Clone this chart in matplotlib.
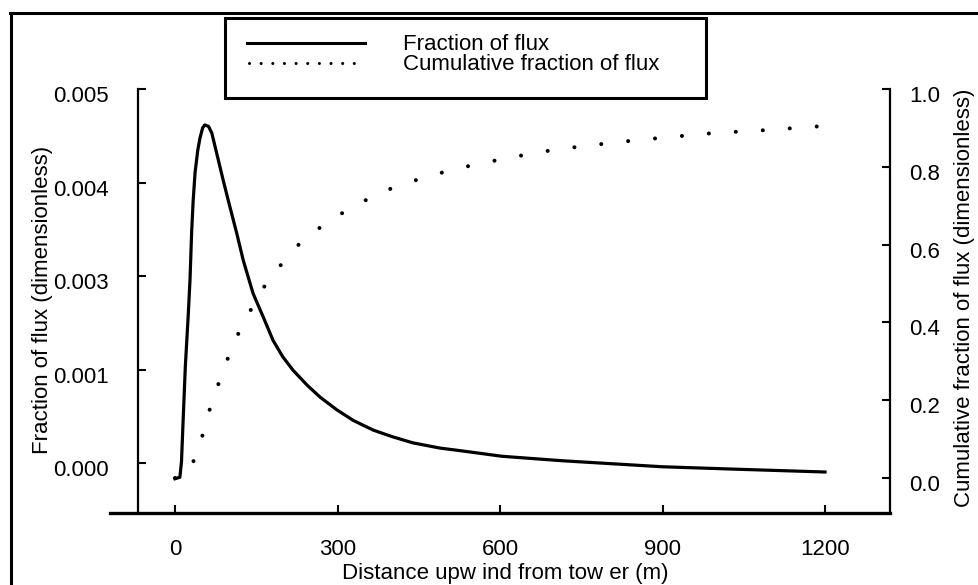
import matplotlib
matplotlib.use("Agg")
import matplotlib.pyplot as plt
from matplotlib.lines import Line2D
from matplotlib.patches import Rectangle
from matplotlib.transforms import ScaledTranslation

plt.rcParams['font.family'] = ['Liberation Sans', 'DejaVu Sans']
plt.rcParams['font.size'] = 16

## Data
# fraction of flux, left axis (values on the linear tick scale)
dist_frac = [0, 9, 12, 15, 19, 24.6, 27.7, 30.8, 33.5, 37, 42, 46, 51, 55,
             62, 68, 79, 89, 98, 114, 126, 144, 163, 181, 199, 218, 244, 268,
             299, 329, 366, 402, 439, 489, 532, 604, 716, 900, 1025, 1200]
frac = [-0.00021, -0.00019, 0.00002, 0.00057, 0.00128, 0.00200, 0.00245,
        0.00310, 0.00350, 0.00388, 0.00418, 0.00434, 0.00448, 0.00452,
        0.00450, 0.00441, 0.00408, 0.00378, 0.00352, 0.00307, 0.00271,
        0.00227, 0.00195, 0.00164, 0.00142, 0.00124, 0.00104, 0.00088,
        0.00071, 0.00057, 0.00044, 0.00035, 0.00027, 0.00020, 0.00016,
        0.00009, 0.00003, -0.00005, -0.00008, -0.00012]

# cumulative fraction of flux, right axis
dist_cum = [0, 22, 33, 42, 50, 55, 70, 87, 105, 124, 148, 172, 203, 236,
            277, 318, 360, 402, 452, 476, 526, 576, 624, 674, 724, 772,
            822, 871, 919, 969, 1019, 1067, 1117, 1167, 1200]
cum = [0.0, 0.010, 0.039, 0.072, 0.105, 0.139, 0.200, 0.270, 0.334, 0.393,
       0.452, 0.509, 0.560, 0.612, 0.653, 0.689, 0.720, 0.746, 0.769, 0.779,
       0.797, 0.812, 0.825, 0.838, 0.848, 0.856, 0.864, 0.871, 0.877, 0.884,
       0.889, 0.892, 0.897, 0.902, 0.905]

xticks = [0, 300, 600, 900, 1200]
yticks_left = [0, 0.00125, 0.0025, 0.00375, 0.005]
yticklabels_left = ['0.000', '0.001', '0.003', '0.004', '0.005']
yticks_right = [0.0, 0.2, 0.4, 0.6, 0.8, 1.0]
yticklabels_right = ['0.0', '0.2', '0.4', '0.6', '0.8', '1.0']

W, H = 979, 585

def fx(px):
    return px / W

def fy(py):
    return 1 - py / H

fig = plt.figure(figsize=(W / 100, H / 100), dpi=100)
ax = fig.add_axes([fx(110), fy(513), (890 - 110) / W, (513 - 89) / H])

ax.plot(dist_frac, frac, color='k', lw=2.3, solid_joinstyle='round')
ax.set_xlim(-120, 1320)
ax.set_ylim(-0.000668, 0.005)

ax2 = ax.twinx()
ax2.plot(dist_cum, cum, color='k', lw=2.9, ls=(0, (0.01, 6.7)),
         dash_capstyle='round')
ax2.set_ylim(-0.09, 1.0)

# spines
for s in ['top', 'right']:
    ax.spines[s].set_visible(False)
for s in ['top', 'left', 'bottom']:
    ax2.spines[s].set_visible(False)
ax.spines['left'].set_position(('data', -68))
ax.spines['left'].set_linewidth(1.6)
ax.spines['bottom'].set_linewidth(2.4)
ax2.spines['right'].set_linewidth(1.6)

ax.set_xticks(xticks)
ax.set_yticks(yticks_left)
ax.set_yticklabels(yticklabels_left)
ax2.set_yticks(yticks_right)
ax2.set_yticklabels(yticklabels_right)

ax.tick_params(axis='x', direction='in', length=6, width=1.5, pad=19)
ax.tick_params(axis='y', direction='in', length=5.5, width=1.5, pad=21)
ax2.tick_params(axis='y', direction='in', length=5.5, width=1.5, pad=14)

ax.set_xlabel('Distance upw ind from tow er (m)')
ax.xaxis.label.set_verticalalignment('center')
ax.xaxis.set_label_coords((505 - 110) / 780, (513 - 574) / 424)

ax.set_ylabel('Fraction of flux (dimensionless)')
ax.yaxis.label.set(rotation_mode='default', ha='center', va='center')
ax.yaxis.set_label_coords((43 - 110) / 780, (513 - 300) / 424)

ax2.set_ylabel('Cumulative fraction of flux (dimensionless)')
ax2.yaxis.label.set(rotation_mode='default', ha='center', va='center')
ax2.yaxis.set_label_coords((965 - 110) / 780, (513 - 298) / 424)

# y tick labels sit a little below their ticks in the original
shift = ScaledTranslation(0, -5 / 100, fig.dpi_scale_trans)
for lab in ax.get_yticklabels() + ax2.get_yticklabels():
    lab.set_transform(lab.get_transform() + shift)

## Legend box, drawn by hand
fig.add_artist(Rectangle((fx(225), fy(98)), fx(706) - fx(225), fy(18) - fy(98),
                         transform=fig.transFigure, facecolor='white',
                         edgecolor='k', lw=2.2, zorder=5))
fig.add_artist(Line2D([fx(247), fx(365)], [fy(43), fy(43)], color='k',
                      lw=2.2, zorder=6))
fig.add_artist(Line2D([fx(249), fx(356)], [fy(63), fy(63)], color='k',
                      lw=2.2, ls=(0, (0.01, 3.8)), dash_capstyle='round',
                      zorder=6))
fig.text(fx(403), fy(45), 'Fraction of flux', ha='left', va='center', zorder=7)
fig.text(fx(403), fy(65), 'Cumulative fraction of flux', ha='left',
         va='center', zorder=7)

## Scan frame (top and left edges)
fig.add_artist(Line2D([fx(11), fx(11)], [fy(13), 0], color='k', lw=2.2))
fig.add_artist(Line2D([fx(10), 1], [fy(13), fy(13)], color='k', lw=2.2))

fig.savefig('out.png', dpi=100)
